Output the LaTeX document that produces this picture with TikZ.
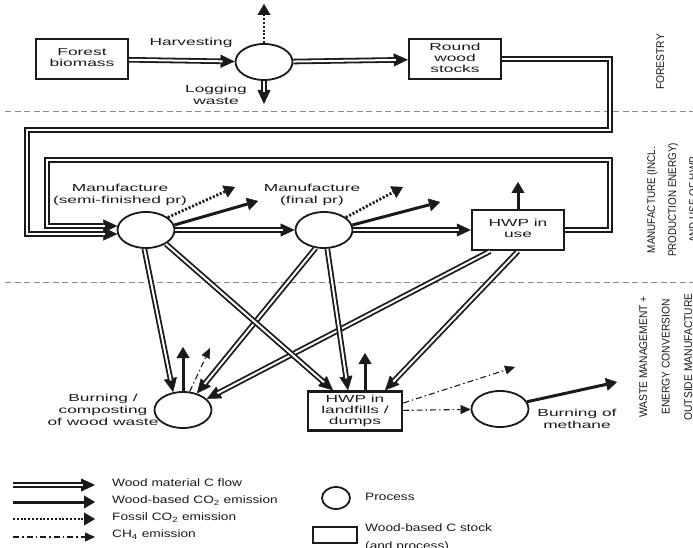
\documentclass[tikz,border=0pt]{standalone}
\usepackage{fontspec}
\usepackage{xcolor}
\usepackage{graphicx}
\usepackage{tikz}
\usetikzlibrary{shapes.geometric, arrows.meta, positioning, calc}
\setmainfont{Liberation Sans}
\definecolor{ink}{HTML}{1A1A1A}
\definecolor{sep}{HTML}{8C8C8C}
\newcommand{\wtext}[2]{\scalebox{#1}[1]{\begin{tabular}{@{}c@{}}#2\end{tabular}}}
\newcommand{\wltext}[2]{\scalebox{#1}[1]{\begin{tabular}{@{}l@{}}#2\end{tabular}}}

\begin{document}
\begin{tikzpicture}[x=1pt, y=-1pt,
  stock/.style={draw=ink, line width=2.4pt, minimum width=92pt, minimum height=40pt, inner sep=0pt, align=center, font=\fontsize{10.2}{11}\selectfont, text=ink},
  proc/.style={draw=ink, ellipse, line width=1.8pt, minimum width=57pt, minimum height=36pt, inner sep=0pt},
  lbl/.style={align=center, font=\fontsize{10.2}{12}\selectfont, text=ink, inner sep=0pt},
  side/.style={rotate=90, align=center, font=\fontsize{11.2}{21}\selectfont, text=ink, inner sep=0pt},
  legtxt/.style={anchor=west, font=\fontsize{10.7}{17.5}\selectfont, text=ink, inner sep=0pt},
  flow/.style={draw=ink, line width=5.6pt, line join=miter, -{Triangle[length=14pt,width=13pt,line width=0.4pt]},
    postaction={draw=white, line width=2pt, line join=miter, shorten >=12pt, -}},
  woodco2/.style={draw=ink, line width=3pt, -{Triangle[length=11pt,width=13pt,line width=0.4pt]}},
  fossil/.style={draw=ink, line width=2.8pt, dash pattern=on 2pt off 1.8pt, -{Triangle[length=11pt,width=13pt,line width=0.4pt]}},
  ch4/.style={draw=ink, line width=1.1pt, dash pattern=on 6pt off 3pt on 1.5pt off 3pt, -{Triangle[length=10pt,width=9pt,line width=0.4pt]}},
  zone/.style={draw=sep, line width=1pt, dash pattern=on 6pt off 3.5pt}]

  \useasboundingbox (0,0) rectangle (693,548);
  \clip (0,0) rectangle (693,548);

  % zones
  \coordinate (z1a) at (5,112);
  \coordinate (z1b) at (693,112);
  \coordinate (z2a) at (5,282);
  \coordinate (z2b) at (693,282);
  \draw[zone] (z1a) -- (z1b);
  \draw[zone] (z2a) -- (z2b);

  % forestry
  \node[stock] (forest) at (82,59) {\wtext{1.7}{Forest\\biomass}};
  \node[proc] (harvest) at (264,62) {};
  \node[stock] (roundwood) at (455,59) {\wtext{1.7}{Round\\wood\\stocks}};
  \node[lbl] (harvlbl) at (191,43) {\wtext{1.7}{Harvesting}};
  \node[lbl] (loglbl) at (216,96) {\wtext{1.7}{Logging\\waste}};
  \coordinate (fossilA) at (264,4);
  \coordinate (logend) at (264,104);

  % manufacture
  \node[proc] (semi) at (146,230) {};
  \node[proc] (final) at (324,230) {};
  \node[stock] (use) at (518,230) {\wtext{1.7}{HWP in\\use}};
  \node[lbl] (semilbl) at (120,195) {\wtext{1.7}{Manufacture\\(semi-finished pr)}};
  \node[lbl] (finallbl) at (312,195) {\wtext{1.7}{Manufacture\\(final pr)}};
  \coordinate (semiF) at (235,187);
  \coordinate (semiW) at (258,201);
  \coordinate (finalF) at (403,187);
  \coordinate (finalW) at (440,202);
  \coordinate (useW) at (518,182);
  \coordinate (outerR) at (610,130);
  \coordinate (outerL) at (27,130);
  \coordinate (innerR) at (610,160);
  \coordinate (innerL) at (47,160);

  % waste management
  \node[proc] (burn) at (183,410) {};
  \node[stock, minimum width=94pt, minimum height=39pt] (landfill) at (355,411) {\wtext{1.7}{HWP in\\landfills /\\dumps}};
  \node[proc] (methane) at (500,409) {};
  \node[lbl] (burnlbl) at (103,411) {\wtext{1.7}{Burning /\\composting\\of wood waste}};
  \node[lbl] (methlbl) at (577,420) {\wtext{1.7}{Burning of\\methane}};
  \coordinate (burnW) at (183,347);
  \coordinate (burnM) at (210,348);
  \coordinate (landW) at (365,353);
  \coordinate (landM) at (515,367);
  \coordinate (methW) at (617,382);

  \draw[flow] (forest) -- (harvest);
  \draw[flow] (harvest) -- (roundwood);
  \draw[fossil] (harvest) -- (fossilA);
  \draw[flow] (harvest) -- (logend);
  \draw[flow] (roundwood.east) -| (outerR) -- (outerL) |- (semi.188);
  \draw[flow] (use.east) -| (innerR) -- (innerL) |- (semi.172);
  \draw[flow] (semi) -- (final);
  \draw[flow] (final) -- (use);
  \draw[fossil] (semi.30) -- (semiF);
  \draw[woodco2] (semi.10) -- (semiW);
  \draw[fossil] (final.30) -- (finalF);
  \draw[woodco2] (final.10) -- (finalW);
  \draw[woodco2] (use) -- (useW);
  \draw[flow] (semi.265) -- (burn.119);
  \draw[flow] (final.245) -- (burn.50);
  \draw[flow] ([xshift=-28pt]use.south) -- (burn.25);
  \draw[flow] (semi.-35) -- ([xshift=-22pt]landfill.north);
  \draw[flow] (final.280) -- ([xshift=-7pt]landfill.north);
  \draw[flow] (use.south) -- ([xshift=30pt]landfill.north);
  \draw[woodco2] (burn) -- (burnW);
  \draw[ch4] (burn.70) -- (burnM);
  \draw[woodco2] ([xshift=10pt]landfill.north) -- (landW);
  \draw[ch4] ([yshift=8pt]landfill.east) -- (landM);
  \draw[ch4] (landfill) -- (methane);
  \draw[woodco2] (methane.15) -- (methW);

  % side labels
  \node[side] (forlbl) at (660,62) {\wtext{0.92}{FORESTRY}};
  \node[side] (manlbl) at (672,200) {\wtext{0.88}{MANUFACTURE (INCL.\\PRODUCTION ENERGY)\\AND USE OF HWP}};
  \node[side, font=\fontsize{11.2}{22.5}\selectfont] (waslbl) at (665,357) {\wtext{0.92}{WASTE MANAGEMENT +\\ENERGY CONVERSION\\OUTSIDE MANUFACTURE}};

  % legend
  \coordinate (lg1a) at (13,485);
  \coordinate (lg1b) at (95,485);
  \coordinate (lg2a) at (13,502);
  \coordinate (lg2b) at (95,502);
  \coordinate (lg3a) at (13,519);
  \coordinate (lg3b) at (95,519);
  \coordinate (lg4a) at (13,537);
  \coordinate (lg4b) at (95,537);
  \draw[flow] (lg1a) -- (lg1b);
  \draw[woodco2] (lg2a) -- (lg2b);
  \draw[fossil] (lg3a) -- (lg3b);
  \draw[ch4] (lg4a) -- (lg4b);
  \node[legtxt] (lgt1) at (112,483) {\wltext{1.28}{Wood material C flow}};
  \node[legtxt] (lgt2) at (112,500) {\wltext{1.28}{Wood-based CO\textsubscript{2} emission}};
  \node[legtxt] (lgt3) at (112,517) {\wltext{1.28}{Fossil CO\textsubscript{2} emission}};
  \node[legtxt] (lgt4) at (112,534) {\wltext{1.28}{CH\textsubscript{4} emission}};
  \node[proc, minimum width=28pt, minimum height=22pt] (lgproc) at (336,498) {};
  \node[legtxt] (lgt5) at (365,497) {\wltext{1.28}{Process}};
  \node[draw=ink, line width=2.4pt, minimum width=44pt, minimum height=16pt] (lgstock) at (335,535) {};
  \node[legtxt] (lgt6) at (365,537) {\wltext{1.28}{Wood-based C stock\\(and process)}};
\end{tikzpicture}
\end{document}
